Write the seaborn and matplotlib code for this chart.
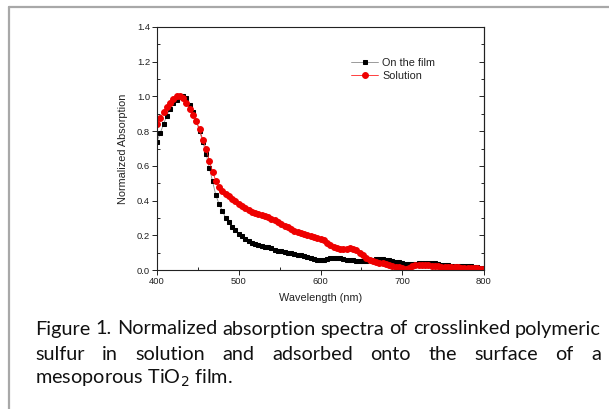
import numpy as np
import pandas as pd
import matplotlib
matplotlib.use("Agg")
import matplotlib.pyplot as plt
from matplotlib.lines import Line2D
from matplotlib.ticker import MultipleLocator
import seaborn as sns

# wavelength grid (nm), one point every 4 nm
wavelength = list(range(400, 801, 4))

film = [0.74, 0.79, 0.84, 0.89, 0.93, 0.96, 0.98, 0.995, 1.00, 0.99,
        0.95, 0.91, 0.86, 0.80, 0.74, 0.67, 0.59, 0.51, 0.43, 0.38,
        0.34, 0.30, 0.275, 0.25, 0.23, 0.21, 0.195, 0.18, 0.165, 0.155,
        0.148, 0.143, 0.14, 0.135, 0.13, 0.124, 0.118, 0.112, 0.107, 0.103,
        0.10, 0.096, 0.092, 0.088, 0.085, 0.082, 0.076, 0.07, 0.064, 0.06,
        0.058, 0.06, 0.064, 0.068, 0.07, 0.072, 0.068, 0.062, 0.058, 0.056,
        0.055, 0.054, 0.052, 0.05, 0.052, 0.056, 0.06, 0.062, 0.063, 0.062,
        0.06, 0.056, 0.052, 0.048, 0.044, 0.04, 0.035, 0.032, 0.033, 0.036,
        0.038, 0.04, 0.042, 0.043, 0.042, 0.04, 0.035, 0.03, 0.027, 0.026,
        0.025, 0.024, 0.024, 0.023, 0.022, 0.022, 0.021, 0.02, 0.018, 0.014,
        0.01]

solution = [0.84, 0.875, 0.91, 0.94, 0.965, 0.985, 1.00, 1.00, 0.99, 0.965,
            0.93, 0.895, 0.86, 0.81, 0.75, 0.70, 0.63, 0.565, 0.515, 0.48,
            0.455, 0.44, 0.425, 0.41, 0.395, 0.382, 0.37, 0.357, 0.345, 0.335,
            0.327, 0.32, 0.315, 0.31, 0.303, 0.295, 0.286, 0.275, 0.265, 0.255,
            0.245, 0.235, 0.227, 0.22, 0.214, 0.208, 0.203, 0.196, 0.19, 0.185,
            0.18, 0.17, 0.158, 0.142, 0.13, 0.125, 0.123, 0.123, 0.123, 0.124,
            0.123, 0.115, 0.10, 0.086, 0.07, 0.06, 0.054, 0.048, 0.042, 0.038,
            0.035, 0.03, 0.025, 0.02, 0.015, 0.01, 0.007, 0.012, 0.024, 0.03,
            0.031, 0.03, 0.029, 0.027, 0.025, 0.023, 0.021, 0.02, 0.018, 0.017,
            0.016, 0.015, 0.015, 0.014, 0.013, 0.013, 0.012, 0.011, 0.009, 0.007,
            0.005]

caption_lines = [
    "Figure 1. Normalized absorption spectra of crosslinked polymeric",
    "sulfur in solution and adsorbed onto the surface of a",
    "mesoporous TiO$_2$ film.",
]

df = pd.DataFrame({"wavelength": wavelength, "film": film, "solution": solution})

sns.set_style("ticks")
plt.rcParams['font.family'] = ['Liberation Sans', 'DejaVu Sans']

fig = plt.figure(figsize=(6.09, 4.09), dpi=100)
ax = fig.add_axes([157 / 609, 139 / 409, 327 / 609, 243 / 409])

sns.lineplot(data=df, x="wavelength", y="film", ax=ax,
             color="#8a8a8a", lw=0.6, marker="s", markersize=3.4,
             markerfacecolor="black", markeredgecolor="black",
             label="On the film")
sns.lineplot(data=df, x="wavelength", y="solution", ax=ax,
             color="#ff2020", lw=0.6, marker="o", markersize=4.2,
             markerfacecolor="#ee0000", markeredgecolor="#ee0000",
             label="Solution")

ax.set_xlim(400, 800)
ax.set_ylim(0, 1.4)
ax.xaxis.set_major_locator(MultipleLocator(100))
ax.xaxis.set_minor_locator(MultipleLocator(50))
ax.yaxis.set_major_locator(MultipleLocator(0.2))
ax.yaxis.set_minor_locator(MultipleLocator(0.1))
ax.yaxis.set_major_formatter(matplotlib.ticker.FormatStrFormatter('%.1f'))
ax.tick_params(which='major', direction='out', length=3.5, width=0.7,
               labelsize=6.8, pad=1.5, colors='#222222')
ax.tick_params(which='minor', direction='in', length=2.5, width=0.7)
for s in ax.spines.values():
    s.set_visible(True)
    s.set_linewidth(0.8)
    s.set_color('#222222')

right = ax.secondary_yaxis('right')
right.yaxis.set_major_locator(MultipleLocator(0.2))
right.yaxis.set_minor_locator(MultipleLocator(0.1))
right.tick_params(which='both', direction='in', length=2.5, width=0.7,
                  labelright=False)
right.tick_params(which='major', length=3.5)

ax.set_xlabel("Wavelength (nm)", fontsize=7.8, labelpad=5, color='#222222')
ax.set_ylabel("Normalized Absorption", fontsize=7.8, labelpad=6, color='#222222')

leg = ax.legend(loc='upper left', bbox_to_anchor=(0.58, 0.89), frameon=False,
                fontsize=7.8, handlelength=2.5, handletextpad=0.4,
                labelspacing=0.25, borderaxespad=0)
for t in leg.get_texts():
    t.set_color('#222222')

# page border
fig.add_artist(Line2D([9 / 609, 1], [1 - 7 / 409, 1 - 7 / 409],
                      transform=fig.transFigure, color='#a8a8a8', lw=1.6))
fig.add_artist(Line2D([9 / 609, 9 / 609], [0, 1 - 7 / 409],
                      transform=fig.transFigure, color='#a8a8a8', lw=1.6))

# caption: size chosen so line 1 fills x=35..601, line 2 justified
left_px, right_px = 35, 601
ys = [329, 354, 378]
fig.canvas.draw()
rend = fig.canvas.get_renderer()
probe = fig.text(0, 0, caption_lines[0], family=['Lato', 'DejaVu Sans'], fontsize=13)
w13 = probe.get_window_extent(rend).width
probe.remove()
cap_font = dict(family=['Lato', 'DejaVu Sans'],
                fontsize=13 * (right_px - left_px) / w13, color='#111111')

for i, line in enumerate(caption_lines):
    y = 1 - ys[i] / 409
    if i == len(caption_lines) - 1:
        fig.text(left_px / 609, y, line, va='center', ha='left', **cap_font)
        continue
    words = line.split(" ")
    texts = [fig.text(0, y, w, va='center', ha='left', **cap_font) for w in words]
    widths = [t.get_window_extent(rend).width for t in texts]
    gap = (right_px - left_px - sum(widths)) / (len(words) - 1)
    x = left_px
    for t, w in zip(texts, widths):
        t.set_x(x / 609)
        x += w + gap

fig.savefig("out.png", dpi=100)
